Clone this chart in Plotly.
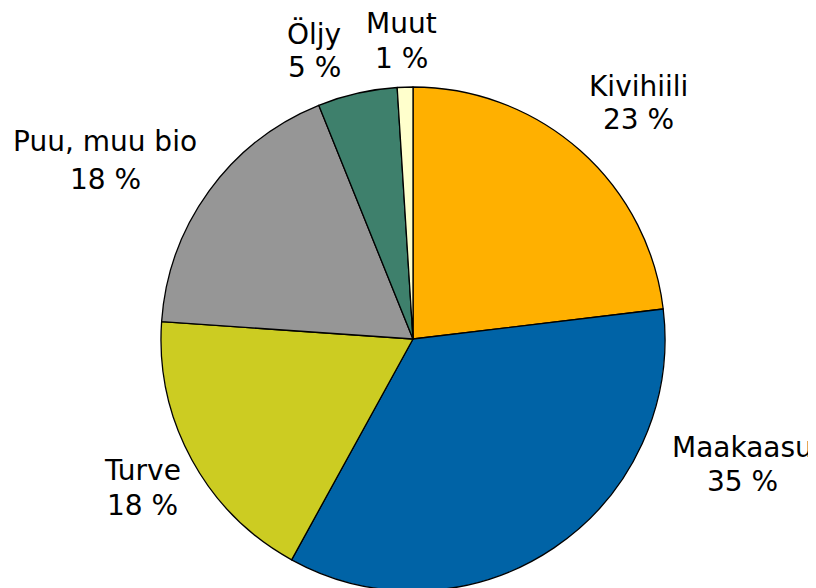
import plotly.graph_objects as go

categories = ["Kivihiili", "Maakaasu", "Turve", "Puu, muu bio", "Öljy", "Muut"]
values = [23.1, 34.9, 18.1, 17.8, 5.1, 1.0]
pct_labels = ["23 %", "35 %", "18 %", "18 %", "5 %", "1 %"]
colors = ["#FFB000", "#0063A6", "#CCCC22", "#969696", "#3E806C", "#FFFFCC"]

W, H = 816, 600
OFF = 8  # page body margin
# label placements (page pixel centres of name line / percent line)
label_x = [638, 742, 142, 105, 314, 401]
name_y = [86, 448, 471, 141, 34, 24]
pct_y = [120, 481, 505, 180, 67, 58]

px0, px1 = 161 - OFF, 665 - OFF
py0, py1 = 87 - OFF, 591 - OFF

fig = go.Figure(go.Pie(
    labels=categories, values=values, sort=False, direction="clockwise", rotation=0,
    marker=dict(colors=colors, line=dict(color="black", width=1.3)),
    textinfo="none", hoverinfo="label+percent", showlegend=False,
    domain=dict(x=[px0 / W, px1 / W], y=[1 - py1 / H, 1 - py0 / H]),
))

annos = []
for i, c in enumerate(categories):
    for txt, yy in ((c, name_y[i]), (pct_labels[i], pct_y[i])):
        annos.append(dict(text=txt, x=(label_x[i] - OFF) / W, y=1 - (yy - OFF) / H,
                          xref="paper", yref="paper",
                          xanchor="center", yanchor="middle", showarrow=False,
                          font=dict(family="DejaVu Sans", size=28, color="black")))

fig.update_layout(width=W, height=H, margin=dict(l=0, r=0, t=0, b=0),
                  paper_bgcolor="white", plot_bgcolor="white", annotations=annos)
fig.write_html("out.html")
